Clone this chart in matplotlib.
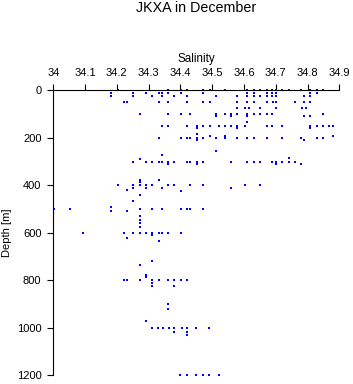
import matplotlib
matplotlib.use("Agg")
import matplotlib.pyplot as plt
import numpy as np

plt.rcParams['font.family'] = ['Liberation Sans', 'DejaVu Sans']

title = "JKXA in December"
x_label = "Salinity"
y_label = "Depth [m]"
x_ticks = [34, 34.1, 34.2, 34.3, 34.4, 34.5, 34.6, 34.7, 34.8, 34.9]
x_tick_labels = ["34", "34.1", "34.2", "34.3", "34.4", "34.5", "34.6", "34.7", "34.8", "34.9"]
y_ticks = [0, 200, 400, 600, 800, 1000, 1200]

# salinity observations grouped by (approximate) depth in metres
sal_0 = [34.203, 34.362, 34.402, 34.422, 34.472, 34.493, 34.541, 34.609, 34.631, 34.650,
         34.671, 34.689, 34.701, 34.721, 34.741, 34.779, 34.809, 34.830, 34.850]
sal_10 = [34.182, 34.252, 34.293, 34.333, 34.342, 34.362, 34.402, 34.472, 34.609, 34.631,
          34.671, 34.689, 34.701, 34.809, 34.830]
sal_25 = [34.182, 34.252, 34.312, 34.342, 34.381, 34.422, 34.512, 34.579, 34.609, 34.631,
          34.650, 34.671, 34.689, 34.701, 34.789, 34.809]
sal_50 = [34.222, 34.233, 34.333, 34.362, 34.422, 34.472, 34.493, 34.579, 34.609, 34.631,
          34.671, 34.691, 34.701, 34.760, 34.789, 34.809]
sal_75 = [34.579, 34.603, 34.615, 34.650, 34.701, 34.784, 34.794]
sal_100 = [34.272, 34.362, 34.402, 34.431, 34.512, 34.541, 34.560, 34.579, 34.609, 34.631,
           34.650, 34.671, 34.689, 34.850]
sal_110 = [34.512, 34.560, 34.609, 34.789, 34.809]
sal_135 = [34.609]
sal_150 = [34.342, 34.362, 34.422, 34.452, 34.472, 34.493, 34.521, 34.541, 34.560, 34.579,
           34.603, 34.671, 34.689, 34.721, 34.809, 34.830, 34.850, 34.868, 34.879]
sal_160 = [34.451, 34.579, 34.809]
sal_185 = [34.451]
sal_193 = [34.493, 34.541, 34.879]
sal_200 = [34.333, 34.402, 34.422, 34.431, 34.451, 34.472, 34.512, 34.541, 34.579, 34.610,
           34.631, 34.671, 34.721, 34.779, 34.830, 34.850]
sal_209 = [34.451, 34.789]
sal_256 = [34.512]
sal_273 = [34.342]
sal_283 = [34.741]
sal_290 = [34.272]
sal_300 = [34.252, 34.293, 34.312, 34.333, 34.342, 34.362, 34.381, 34.422, 34.431, 34.452,
           34.472, 34.560, 34.610, 34.631, 34.650, 34.689, 34.701, 34.721, 34.741, 34.760]
sal_312 = [34.362, 34.451, 34.701, 34.779]
sal_378 = [34.272, 34.333]
sal_388 = [34.272]
sal_400 = [34.203, 34.252, 34.272, 34.293, 34.312, 34.362, 34.381, 34.431, 34.472, 34.603, 34.650]
sal_410 = [34.252, 34.293, 34.342, 34.560]
sal_418 = [34.233]
sal_425 = [34.402]
sal_440 = [34.272]
sal_465 = [34.252]
sal_491 = [34.182]
sal_500 = [34.003, 34.053, 34.272, 34.312, 34.342, 34.402, 34.422, 34.431, 34.472]
sal_510 = [34.182, 34.233]
sal_530 = [34.272]
sal_545 = [34.272]
sal_560 = [34.272]
sal_575 = [34.272]
sal_600 = [34.094, 34.222, 34.252, 34.272, 34.293, 34.312, 34.333, 34.342, 34.362, 34.402]
sal_609 = [34.312]
sal_623 = [34.233]
sal_634 = [34.333]
sal_718 = [34.312]
sal_735 = [34.272]
sal_778 = [34.293]
sal_788 = [34.293]
sal_800 = [34.222, 34.233, 34.272, 34.312, 34.333, 34.362, 34.381, 34.402, 34.422]
sal_812 = [34.312]
sal_826 = [34.312, 34.381]
sal_900 = [34.362]
sal_920 = [34.362]
sal_970 = [34.292]
sal_1000 = [34.310, 34.328, 34.345, 34.363, 34.380, 34.405, 34.420, 34.450, 34.490]
sal_1018 = [34.380, 34.420]
sal_1029 = [34.420]
sal_1200 = [34.400, 34.420, 34.450, 34.470, 34.490, 34.520]

groups = [(0, sal_0), (10, sal_10), (25, sal_25), (50, sal_50), (75, sal_75), (100, sal_100),
          (110, sal_110), (135, sal_135), (150, sal_150), (160, sal_160), (185, sal_185),
          (193, sal_193), (200, sal_200), (209, sal_209), (256, sal_256), (273, sal_273),
          (283, sal_283), (290, sal_290), (300, sal_300), (312, sal_312), (378, sal_378),
          (388, sal_388), (400, sal_400), (410, sal_410), (418, sal_418), (425, sal_425),
          (440, sal_440), (465, sal_465), (491, sal_491), (500, sal_500), (510, sal_510),
          (530, sal_530), (545, sal_545), (560, sal_560), (575, sal_575), (600, sal_600),
          (609, sal_609), (623, sal_623), (634, sal_634), (718, sal_718), (735, sal_735),
          (778, sal_778), (788, sal_788), (800, sal_800), (812, sal_812), (826, sal_826),
          (900, sal_900), (920, sal_920), (970, sal_970), (1000, sal_1000), (1018, sal_1018),
          (1029, sal_1029), (1200, sal_1200)]

sal = []
dep = []
for d, vals in groups:
    sal.extend(vals)
    dep.extend([d] * len(vals))

fig = plt.figure(figsize=(3.53, 3.84), dpi=100)
ax = fig.add_axes([53.3 / 353, 1 - 375.3 / 384, 286 / 353, 285 / 384])

ax.plot(sal, dep, linestyle='none', marker='s', markersize=2.15, markeredgewidth=0,
        color=(0, 0, 1), clip_on=False, antialiased=False)

ax.set_xlim(34, 34.9)
ax.set_ylim(1200, 0)
ax.xaxis.tick_top()
ax.xaxis.set_label_position('top')
ax.set_xticks(x_ticks)
ax.set_xticklabels(x_tick_labels)
ax.set_yticks(y_ticks)
ax.tick_params(axis='x', direction='out', length=4.5, width=0.8, pad=4.5, labelsize=8)
ax.tick_params(axis='y', direction='out', length=4.5, width=0.8, pad=4, labelsize=8)
ax.set_xlabel(x_label, fontsize=8.4, labelpad=4.5)
ax.set_ylabel(y_label, fontsize=8)
ax.yaxis.set_label_coords(-0.145, 0.5)
for s in ['right', 'bottom']:
    ax.spines[s].set_visible(False)
for s in ['top', 'left']:
    ax.spines[s].set_linewidth(0.8)

fig.text(196 / 353, 1 - 8.5 / 384, title, ha='center', va='center', fontsize=10.3)

fig.savefig("out.png", dpi=100)
